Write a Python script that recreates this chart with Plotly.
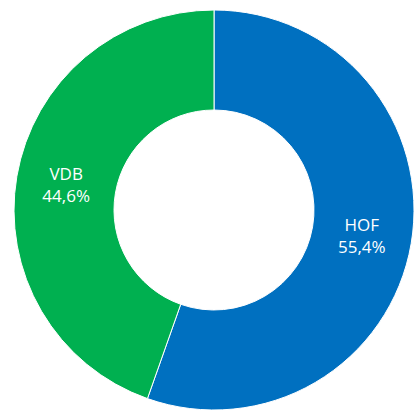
import plotly.graph_objects as go

labels = ["HOF", "VDB"]
values = [55.4, 44.6]
colors = ["#0070C0", "#00B050"]
texts = [f"{l}<br>{str(v).replace('.', ',')}%" for l, v in zip(labels, values)]

fig = go.Figure(go.Pie(
    labels=labels, values=values, text=texts, texttemplate="%{text}",
    textinfo="text", textposition="inside", insidetextorientation="horizontal",
    hole=0.5, sort=False, direction="clockwise", rotation=0,
    marker=dict(colors=colors, line=dict(color="white", width=1)),
    textfont=dict(family="Open Sans, Liberation Sans, sans-serif", size=17, color="white"),
    domain=dict(x=[14/414, 1.0], y=[2/413, 404/413]),
    showlegend=False,
))
fig.update_layout(width=414, height=413, margin=dict(l=0, r=0, t=0, b=0),
                  paper_bgcolor="white", plot_bgcolor="white")
fig.write_html("out.html", config={"displayModeBar": False},
               post_script="document.body.style.margin='0';")
